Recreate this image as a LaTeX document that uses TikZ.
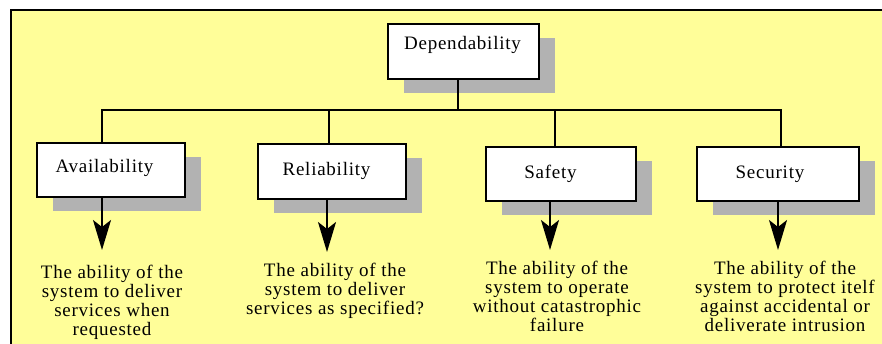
\documentclass[tikz,border=0pt]{standalone}
\usepackage{fontspec}
\setmainfont{Liberation Serif}[LetterSpace=4]
\usetikzlibrary{arrows.meta,shadows}
\definecolor{paper}{HTML}{FFFE99}
\definecolor{shade}{HTML}{B2B2B2}

\begin{document}
\begin{tikzpicture}[x=1pt,y=-1pt,
  box/.style={draw=black, line width=1.8pt, fill=white, inner sep=0pt,
    anchor=north west, minimum height=54pt,
    general shadow={fill=shade, draw=none, shadow xshift=16pt, shadow yshift=-14pt}},
  label/.style={anchor=base, inner sep=0pt, font=\fontsize{19pt}{19pt}\selectfont},
  % multi-line text: the base anchor sits on the last line's baseline
  desc/.style={anchor=base, inner sep=0pt, align=center,
    font=\fontsize{19pt}{19pt}\selectfont},
  wire/.style={line width=1.8pt, line join=miter},
  arrow/.style={line width=1.8pt, -{Stealth[length=30pt, width=18pt, inset=7pt]}}]

% page and yellow panel
\useasboundingbox (0,0) rectangle (882,343);
\clip (0,0) rectangle (882,343);
\fill[white] (0,0) rectangle (882,343);
\draw[fill=paper, line width=1.2pt] (11,10) rectangle (900,360);

% boxes
\node[box, minimum width=151pt, minimum height=55pt] (dep) at (387,23) {};
\node[box, minimum width=148pt] (avail) at (36,142) {};
\node[box, minimum width=148pt, minimum height=55pt] (reli) at (257,143) {};
\node[box, minimum width=150pt] (safe) at (485,146) {};
\node[box, minimum width=162pt] (secu) at (696,146) {};

% box captions
\node[label] (depl)   at (462.5,49) {Dependability};
\node[label] (availl) at (104.5,172) {Availability};
\node[label] (relil)  at (326.5,175) {Reliability};
\node[label] (safel)  at (550.5,178) {Safety};
\node[label] (secul)  at (770,178) {Security};

% tree connectors
\coordinate (j0) at (458,110);
\coordinate (j1) at (102,110);
\coordinate (j2) at (329,110);
\coordinate (j3) at (555,110);
\coordinate (j4) at (781,110);
\draw[wire] (j0 |- dep.south) -- (j0);
\draw[wire] (j1 |- avail.north) -- (j1) -- (j4) -- (j4 |- secu.north);
\draw[wire] (j2) -- (j2 |- reli.north);
\draw[wire] (j3) -- (j3 |- safe.north);

% descriptions
\node[desc] (availd) at (112,335) {The ability of the\\system to deliver\\services when\\requested};
\node[desc] (relid)  at (335,314) {The ability of the\\system to deliver\\services as specified?};
\node[desc] (safed)  at (557,331) {The ability of the\\system to operate\\without catastrophic\\failure};
\node[desc] (secud)  at (785,331) {The ability of the\\system to protect itelf\\against accidental or\\deliverate intrusion};

% arrows down to the descriptions
\coordinate (t1) at (102,250);
\coordinate (t2) at (327,252);
\coordinate (t3) at (550,250);
\coordinate (t4) at (778,250);
\draw[arrow] (t1 |- avail.south) -- (t1);
\draw[arrow] (t2 |- reli.south) -- (t2);
\draw[arrow] (t3 |- safe.south) -- (t3);
\draw[arrow] (t4 |- secu.south) -- (t4);
\end{tikzpicture}
\end{document}
